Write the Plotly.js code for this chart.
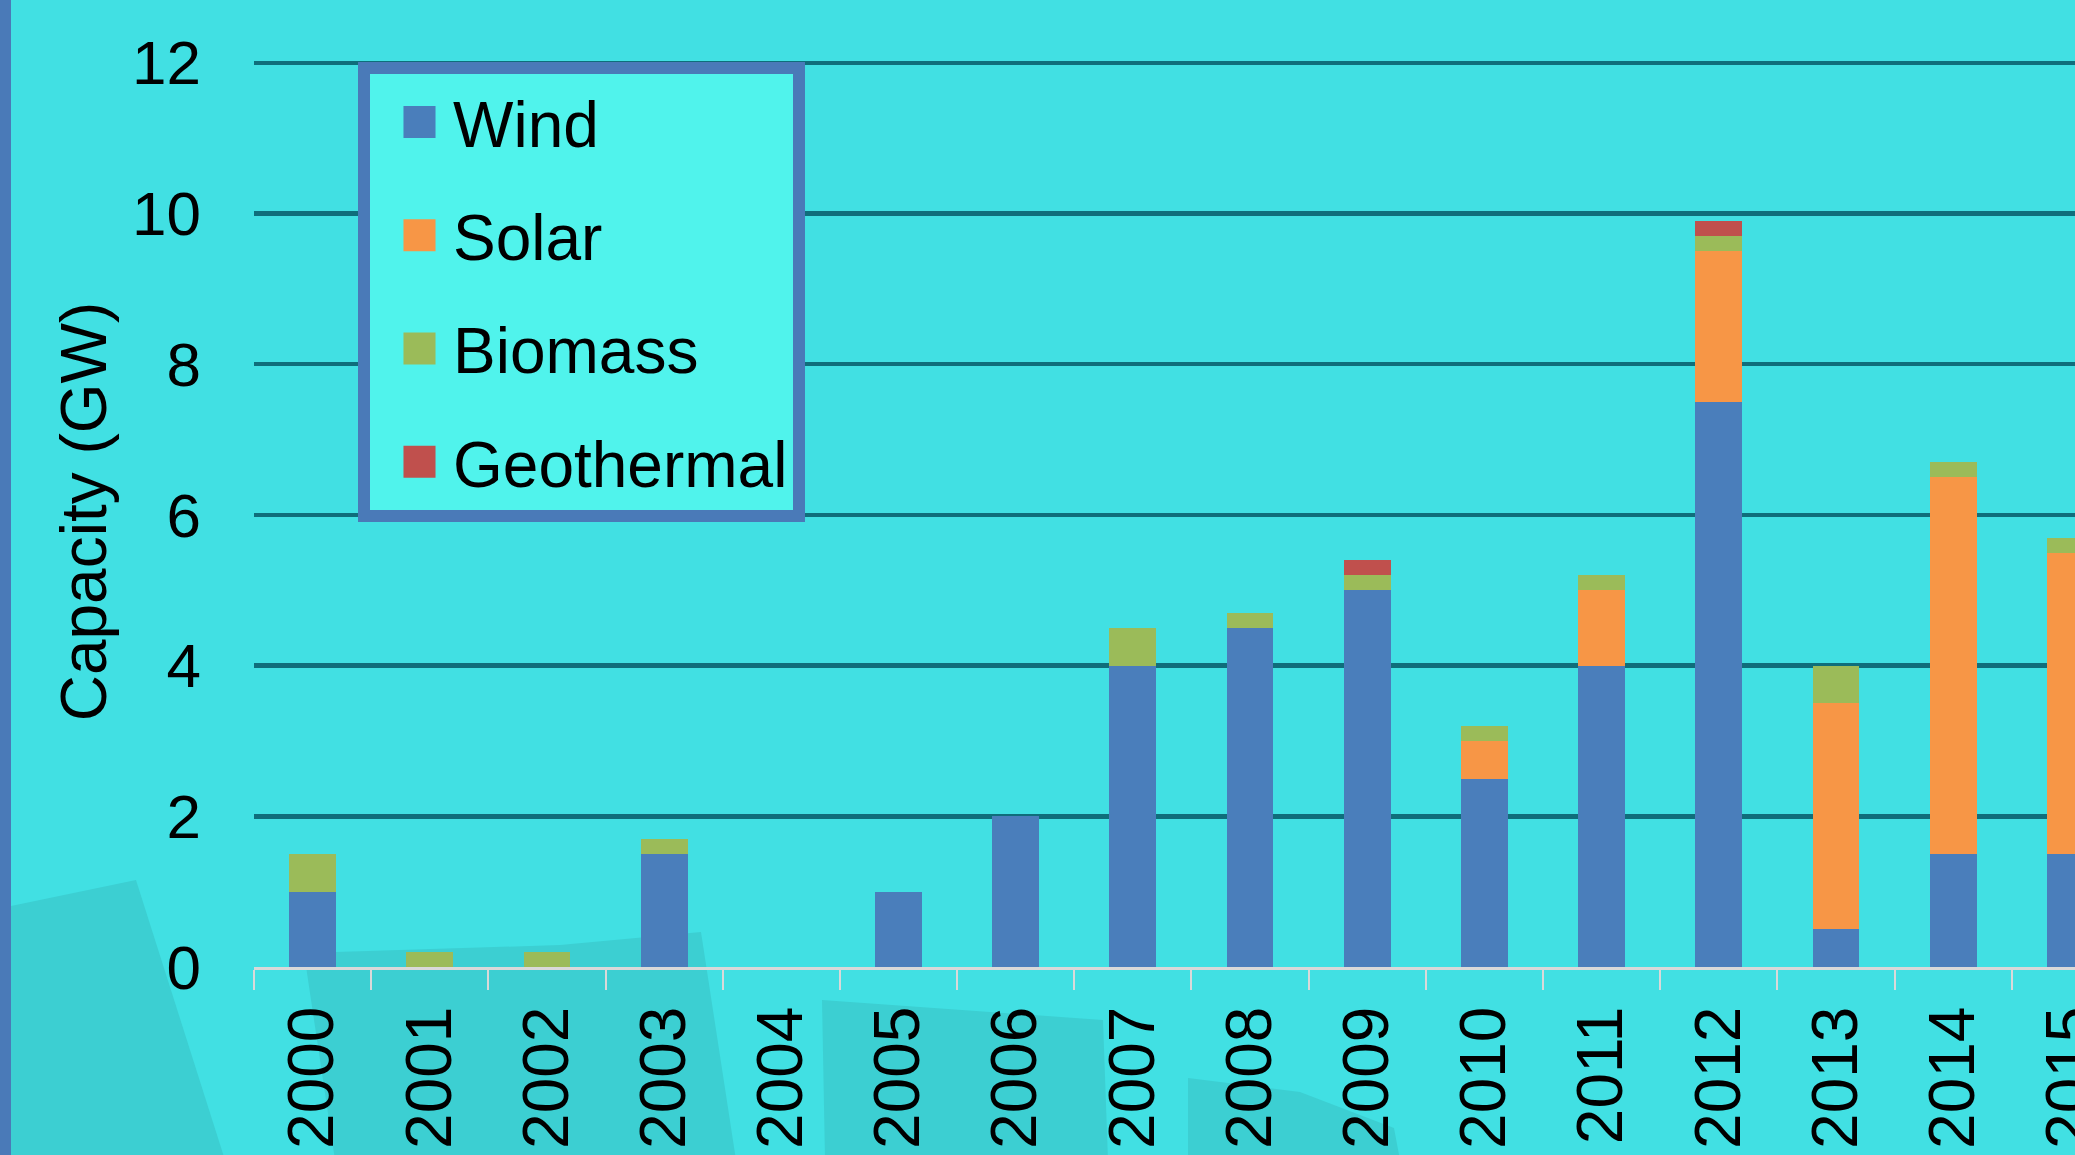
<!DOCTYPE html>
<html>
<head>
<meta charset="utf-8">
<script src="https://cdn.plot.ly/plotly-3.0.1.min.js"></script>
<style>
  html, body { margin: 0; padding: 0; background: #41E0E3; }
  #chart { width: 2075px; height: 1155px; }
</style>
</head>
<body>
<div id="chart"></div>
<script>
// ---- Data (GW of capacity added per year) ----
const years = ['2000','2001','2002','2003','2004','2005','2006','2007',
               '2008','2009','2010','2011','2012','2013','2014','2015'];
const seriesNames = ['Wind', 'Solar', 'Biomass', 'Geothermal'];
const wind       = [1.0, 0,   0,   1.5, 0, 1.0, 2.0, 4.0, 4.5, 5.0, 2.5, 4.0, 7.5, 0.5, 1.5, 1.5];
const solar      = [0,   0,   0,   0,   0, 0,   0,   0,   0,   0,   0.5, 1.0, 2.0, 3.0, 5.0, 4.0];
const biomass    = [0.5, 0.2, 0.2, 0.2, 0, 0,   0,   0.5, 0.2, 0.2, 0.2, 0.2, 0.2, 0.5, 0.2, 0.2];
const geothermal = [0,   0,   0,   0,   0, 0,   0,   0,   0,   0.2, 0,   0,   0.2, 0,   0,   0  ];
const yTicks = [0, 2, 4, 6, 8, 10, 12];
const yTitle = 'Capacity (GW)';

// ---- Styles ----
const colors = ['#4A7EBB', '#F79646', '#9BBB59', '#C0504D'];
const seriesValues = [wind, solar, biomass, geothermal];
const FONT = '"Liberation Sans", Arial, sans-serif';
const BG = '#41E0E3';

const W = 2075, H = 1155;
const M = { l: 254, r: 0, t: 56, b: 188 };
const plotW = W - M.l - M.r;
const plotH = H - M.t - M.b;
// helpers to place background decoration in paper coordinates
const px = x => (x - M.l) / plotW;
const py = y => (H - M.b - y) / plotH;
function poly(points) {
  return 'M' + points.map(p => px(p[0]) + ',' + py(p[1])).join(' L') + ' Z';
}

const traces = seriesNames.map((name, i) => ({
  type: 'bar',
  name: name,
  x: years,
  y: seriesValues[i],
  legendgroup: name,
  marker: { color: colors[i], line: { width: 0 } },
  hoverinfo: 'x+y+name'
}));

const decoColor = '#3CCFD2';
const shapes = [
  // left slide border stripe
  { type: 'rect', xref: 'paper', yref: 'paper', layer: 'below',
    x0: px(0), x1: px(11), y0: py(H + 10), y1: py(-10),
    fillcolor: '#4A7AB8', line: { width: 0 } },
  // faint background facets of the slide design
  { type: 'path', xref: 'paper', yref: 'paper', layer: 'below',
    path: poly([[11, 906], [136, 880], [225, 1160], [11, 1160]]),
    fillcolor: decoColor, line: { width: 0 } },
  { type: 'path', xref: 'paper', yref: 'paper', layer: 'below',
    path: poly([[304, 953], [560, 945], [701, 932], [736, 1160], [335, 1160]]),
    fillcolor: decoColor, line: { width: 0 } },
  { type: 'path', xref: 'paper', yref: 'paper', layer: 'below',
    path: poly([[822, 1000], [1103, 1020], [1108, 1160], [825, 1160]]),
    fillcolor: decoColor, line: { width: 0 } },
  { type: 'path', xref: 'paper', yref: 'paper', layer: 'below',
    path: poly([[1188, 1078], [1300, 1092], [1394, 1128], [1400, 1160], [1188, 1160]]),
    fillcolor: decoColor, line: { width: 0 } }
];

const layout = {
  width: W, height: H,
  margin: M,
  paper_bgcolor: BG,
  plot_bgcolor: 'rgba(0,0,0,0)',
  font: { family: FONT, color: '#000000', size: 62 },
  barmode: 'stack',
  bargap: 0.6,
  showlegend: true,
  legend: {
    x: px(358), y: py(62), xanchor: 'left', yanchor: 'top',
    bgcolor: '#50F3EC', bordercolor: '#4A7AB8', borderwidth: 12,
    font: { family: FONT, size: 64, color: '#000000' },
    traceorder: 'grouped', tracegroupgap: 27, itemwidth: 73
  },
  xaxis: {
    type: 'category',
    range: [-0.5, 15.04],
    tickangle: -90,
    tickfont: { family: FONT, size: 64, color: '#000000' },
    ticks: 'outside', tickson: 'boundaries', ticklen: 20,
    tickcolor: '#D9D9D9', tickwidth: 2,
    showline: true, linecolor: '#D9D9D9', linewidth: 3,
    showgrid: false, zeroline: false, fixedrange: true,
    ticklabelstandoff: 11
  },
  yaxis: {
    range: [0, 12.09],
    tickvals: yTicks,
    ticktext: yTicks.map(String),
    tickfont: { family: FONT, size: 62, color: '#000000' },
    showgrid: true, gridcolor: '#0F6E7B', gridwidth: 4.5,
    zeroline: false, showline: false, ticks: '',
    ticklabelstandoff: 52,
    title: { text: yTitle, font: { family: FONT, size: 64, color: '#000000' }, standoff: 4 },
    fixedrange: true
  },
  shapes: shapes
};

Plotly.newPlot('chart', traces, layout, { displayModeBar: false, staticPlot: true })
  .then(function (gd) {
    // enlarge the legend swatches to the size used in the original slide
    gd.querySelectorAll('.legend .legendpoints path').forEach(function (p) {
      const t = p.getAttribute('transform') || '';
      p.setAttribute('transform', t + ' translate(8,0) scale(2.67)');
    });
  });
</script>
</body>
</html>
